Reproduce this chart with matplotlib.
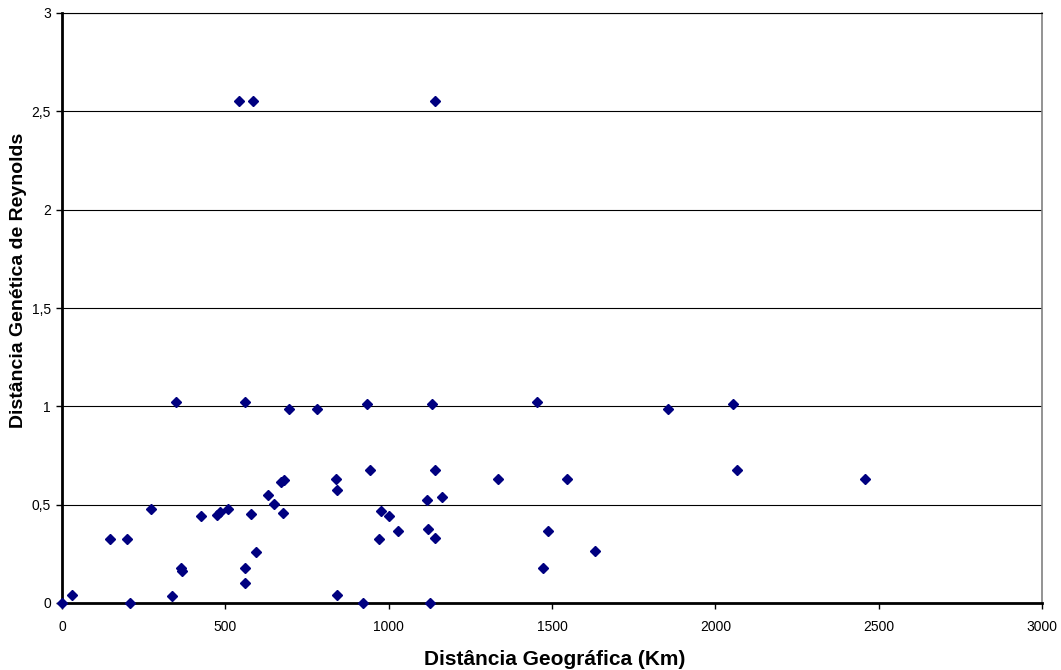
import numpy as np
import matplotlib.pyplot as plt
from matplotlib.ticker import FuncFormatter

plt.rcParams['font.family'] = ['Liberation Sans', 'DejaVu Sans']

# distancia geografica (Km) x distancia genetica de Reynolds
dist_geo = [0, 30, 148, 198, 209, 271, 338, 349, 363, 367, 427, 475, 483, 507,
            560, 560, 560, 579, 595, 632, 650, 669, 679, 675, 696, 781, 838, 842,
            842, 920, 933, 942, 969, 978, 1002, 1028, 1134, 1143, 1118, 1162, 1121,
            1143, 1125, 1336, 1455, 1487, 1471, 1545, 1631, 1854, 2054, 2067, 2457,
            542, 584, 1142]
dist_gen = [0, 0.039, 0.325, 0.325, 0, 0.480, 0.034, 1.021, 0.176, 0.161, 0.442,
            0.445, 0.464, 0.477, 1.021, 0.176, 0.102, 0.455, 0.257, 0.548, 0.501,
            0.613, 0.625, 0.460, 0.985, 0.985, 0.633, 0.577, 0.039, 0, 1.014, 0.675,
            0.325, 0.467, 0.442, 0.366, 1.014, 0.675, 0.525, 0.538, 0.374, 0.333,
            0, 0.633, 1.021, 0.366, 0.176, 0.633, 0.264, 0.985, 1.014, 0.675, 0.633,
            2.555, 2.555, 2.553]

fig = plt.figure(figsize=(10.61, 6.70), dpi=100)
ax = fig.add_axes([62/1061, 67/670, 980/1061, 590/670])

ax.plot(dist_geo, dist_gen, linestyle='none', marker='D', markersize=4.6,
        color='#000080', clip_on=False, zorder=3)

ax.set_xlim(0, 3000)
ax.set_ylim(0, 3)
ax.set_xticks(np.arange(0, 3001, 500))
ax.set_yticks(np.arange(0, 3.01, 0.5))
ax.yaxis.set_major_formatter(FuncFormatter(lambda v, p: ('%g' % v).replace('.', ',')))

ax.grid(axis='y', color='black', linewidth=0.8)
ax.set_axisbelow(True)

for s in ['left', 'bottom']:
    ax.spines[s].set_linewidth(2)
    ax.spines[s].set_color('black')
ax.spines['top'].set_linewidth(0.8)
ax.spines['right'].set_color('#808080')
ax.spines['right'].set_linewidth(1.2)

ax.tick_params(axis='both', direction='out', length=4, width=1, labelsize=10, pad=4)
ax.tick_params(axis='x', pad=8)

ax.set_xlabel('Distância Geográfica (Km)', fontsize=15, fontweight='bold')
ax.set_ylabel('Distância Genética de Reynolds', fontsize=14, fontweight='bold')
ax.xaxis.set_label_coords(0.503, -0.095)
ax.xaxis.label.set_va('center')
ax.yaxis.set_label_coords(-0.044, 0.547)
ax.yaxis.label.set_va('center')

plt.savefig('out.png', dpi=100)
